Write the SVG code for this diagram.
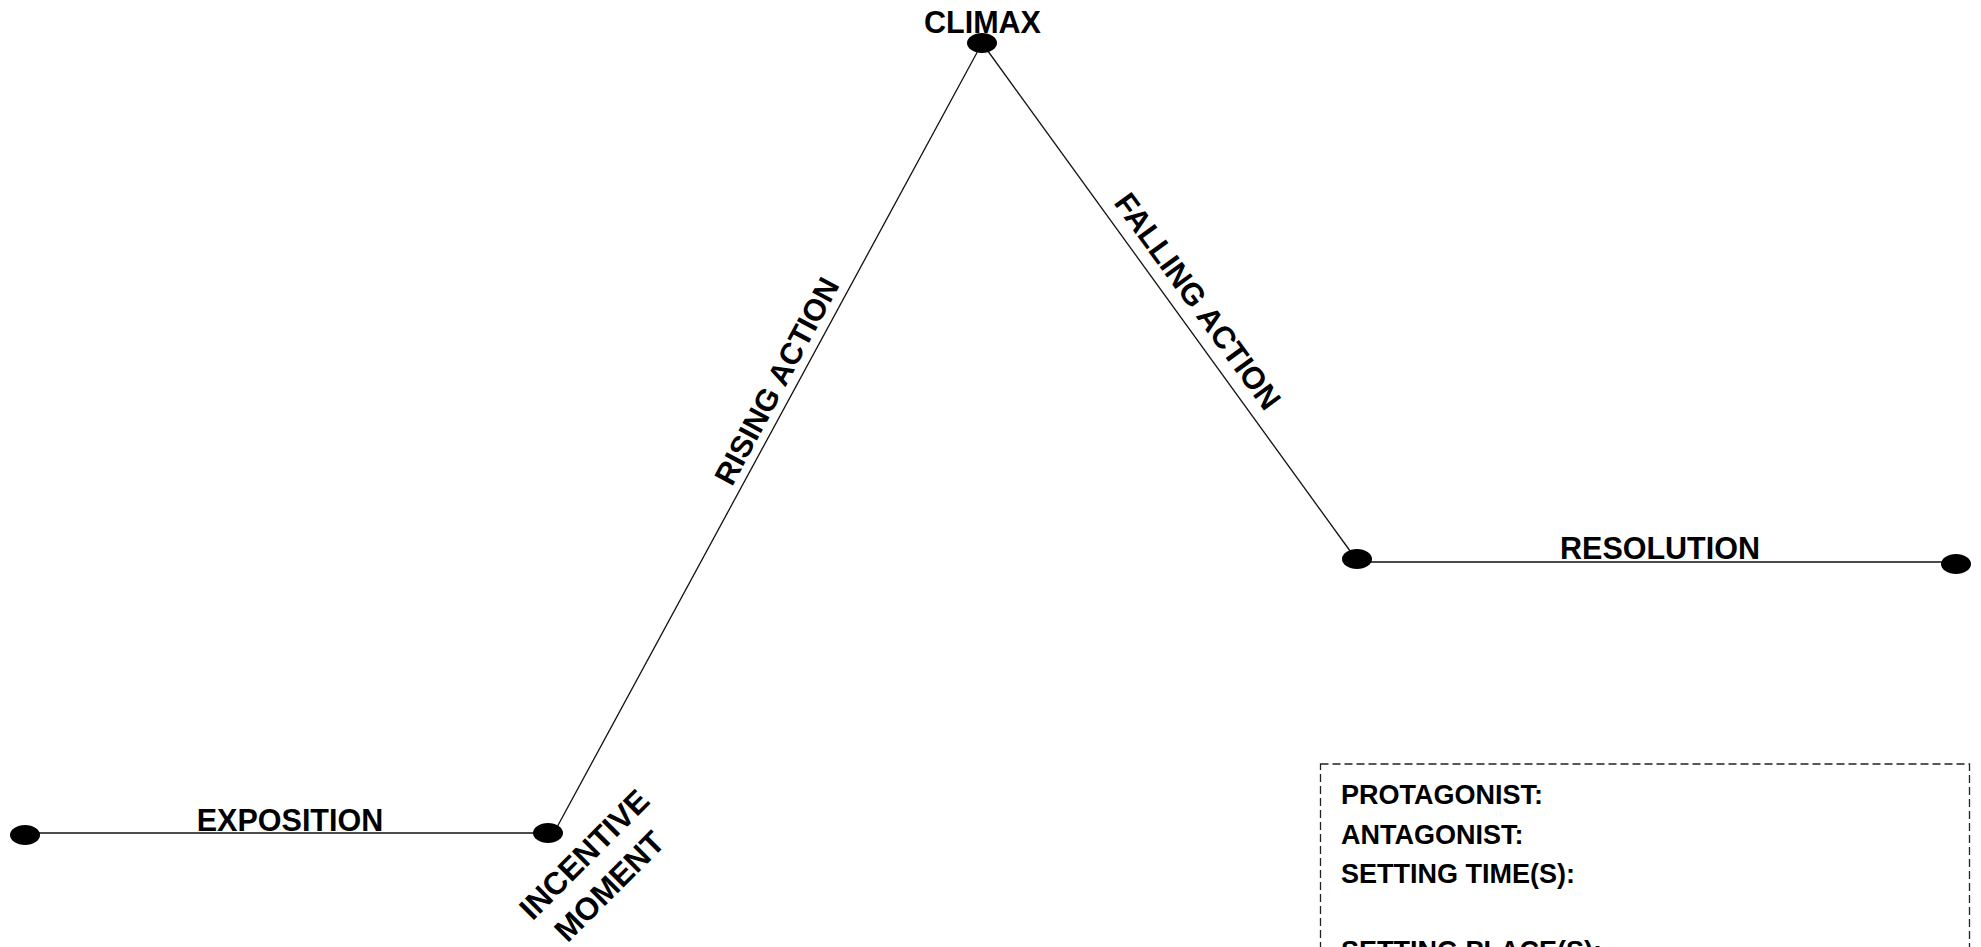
<svg xmlns="http://www.w3.org/2000/svg" width="1981" height="947" viewBox="0 0 1981 947">
<style>
.lbl{font-family:"Liberation Sans",Arial,sans-serif;font-weight:bold;font-size:30.5px;fill:#000;text-anchor:middle}
.box{font-family:"Liberation Sans",Arial,sans-serif;font-weight:bold;font-size:27px;fill:#000}
.ln{stroke:#111;stroke-width:1.3;fill:none}
.dot{fill:#000}
</style>
<rect width="1981" height="947" fill="#fff"/>
<g id="connectors">
<line class="ln" x1="25" y1="833" x2="548" y2="833"/>
<line class="ln" x1="556" y1="829" x2="980" y2="47"/>
<line class="ln" x1="985" y1="47" x2="1353" y2="555"/>
<line class="ln" x1="1357" y1="562" x2="1956" y2="562"/>
</g>
<g id="exposition">
<ellipse class="dot" cx="25" cy="835" rx="15" ry="10"/>
<text class="lbl" x="290" y="831">EXPOSITION</text>
</g>
<g id="incentive-moment">
<ellipse class="dot" cx="548" cy="833" rx="15" ry="10"/>
<text class="lbl" style="font-size:31.5px" transform="translate(592,862) rotate(-45)">INCENTIVE</text>
<text class="lbl" style="font-size:31.5px" transform="translate(617,894) rotate(-45)">MOMENT</text>
</g>
<g id="rising-action">
<text class="lbl" transform="translate(786,386) rotate(-61.9)">RISING ACTION</text>
</g>
<g id="climax">
<ellipse class="dot" cx="982" cy="43" rx="15" ry="10"/>
<text class="lbl" x="982.5" y="33">CLIMAX</text>
</g>
<g id="falling-action">
<text class="lbl" style="font-size:31px" transform="translate(1189,307.5) rotate(54)">FALLING ACTION</text>
</g>
<g id="resolution">
<ellipse class="dot" cx="1357" cy="559" rx="15" ry="10"/>
<ellipse class="dot" cx="1956" cy="564" rx="15" ry="10"/>
<text class="lbl" x="1660" y="559">RESOLUTION</text>
</g>
<g id="info-box">
<rect x="1320.5" y="764" width="649" height="260" fill="none" stroke="#222" stroke-width="1.3" stroke-dasharray="8 4"/>
<text class="box" x="1341" y="804">PROTAGONIST:</text>
<text class="box" x="1341" y="844">ANTAGONIST:</text>
<text class="box" x="1341" y="883">SETTING TIME(S):</text>
<text class="box" x="1341" y="960">SETTING PLACE(S):</text>
</g>
</svg>
